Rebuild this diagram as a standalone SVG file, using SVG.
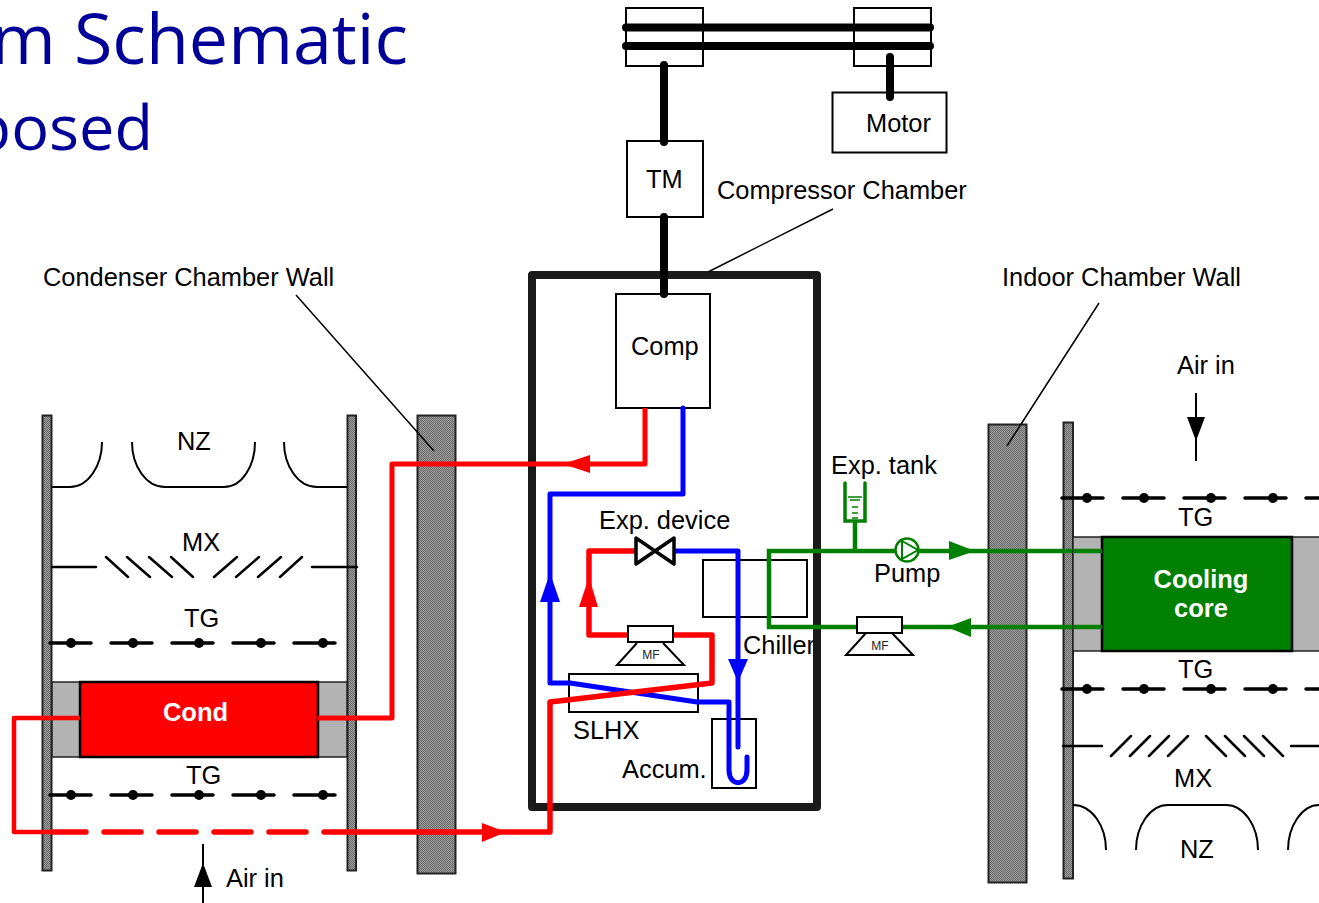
<svg xmlns="http://www.w3.org/2000/svg" width="1319" height="903" viewBox="0 0 1319 903">
<style>
text{font-family:"Liberation Sans",Arial,sans-serif;font-size:25.400px;fill:#000}
.t{fill:#000099;font-family:"Open Sans","Noto Sans",sans-serif}
.b{font-weight:bold;fill:#fff;font-size:25.500px}
.mf{font-size:12px;fill:#222}
.w{fill:url(#h);stroke:#222;stroke-width:2}
.box{fill:#fff;stroke:#000;stroke-width:2}
.o{fill:none;stroke:#000;stroke-width:2}
.s{fill:none;stroke:#000;stroke-width:2.500;stroke-linecap:round}
.tgl{fill:none;stroke:#000;stroke-width:3.500;stroke-linecap:round}
.sh{fill:none;stroke:#000;stroke-width:8;stroke-linecap:round}
.red{fill:none;stroke:#f00;stroke-width:5;stroke-linejoin:round}
.blue{fill:none;stroke:#00f;stroke-width:5;stroke-linejoin:round}
.grn{fill:none;stroke:#008000;stroke-width:4.500}
.gray{fill:#b3b3b3;stroke:#222;stroke-width:1.500}
</style>
<defs>
<pattern id="h" width="2" height="2" patternUnits="userSpaceOnUse"><rect width="2" height="2" fill="#9a9a9a"/><rect width="1" height="1" fill="#6e6e6e"/><rect x="1" y="1" width="1" height="1" fill="#6e6e6e"/></pattern>
<g id="tg"><path class="tgl" d="M0 0H41M61 0H102M122 0H163M183 0H224M244 0H285"/><circle cx="21" r="5"/><circle cx="83" r="5"/><circle cx="149" r="5"/><circle cx="211" r="5"/><circle cx="273" r="5"/></g>
<g id="tgr"><path class="tgl" d="M0 0H41M61 0H102M122 0H163M183 0H224M244 0H257"/><circle cx="25" r="5"/><circle cx="82" r="5"/><circle cx="149" r="5"/><circle cx="211" r="5"/></g>
</defs>
<g id="title"><text class="t" x="408" y="64" text-anchor="end" style="font-size:70px">m Schematic</text><text class="t" x="153" y="150" text-anchor="end" style="font-size:63px">posed</text></g>
<g id="walls"><rect class="w" x="42.500" y="415.500" width="9" height="455"/><rect class="w" x="347.500" y="415.500" width="8.500" height="455"/><rect class="w" x="417.500" y="415.500" width="38" height="458"/><rect class="w" x="988.500" y="424.500" width="38" height="458"/><rect class="w" x="1063.500" y="422.500" width="9.500" height="456"/></g>
<g id="nz-left"><path class="o" d="M52 487H70C88 487 102 466 102 442M132 442C132 466 146 487 165 487H224C242 487 255 466 255 442M284 442C284 466 298 487 317 487H347"/><text x="177" y="450">NZ</text></g>
<g id="mx-left"><path class="s" d="M52 567H96M106 557L128 577M127 557L150 577M149 557L172 577M171 557L193 577M214 577L237 557M236 577L259 557M258 577L281 557M280 577L302 557M312 567H357"/><text x="182" y="551">MX</text></g>
<g id="tg-left"><use href="#tg" x="50" y="643"/><text x="184" y="627">TG</text><use href="#tg" x="50" y="795"/><text x="186" y="784">TG</text></g>
<g id="cond"><rect class="gray" x="52" y="682" width="295" height="75"/><rect x="80" y="682" width="238" height="75" fill="#f00" stroke="#000" stroke-width="2.500"/><text class="b" x="195.500" y="721" text-anchor="middle">Cond</text></g>
<g id="comp"><rect class="box" x="616" y="294" width="94" height="114"/><text x="631" y="355">Comp</text></g>
<g id="chamber"><rect x="532" y="275" width="285" height="532" fill="none" stroke="#1a1a1a" stroke-width="8" stroke-linejoin="round"/></g>
<g id="drive"><rect class="box" x="626" y="8" width="77" height="58"/><rect class="box" x="854" y="8" width="77" height="58"/><rect class="box" x="627" y="141" width="76" height="76"/><rect class="box" x="832.500" y="92.500" width="114" height="60" stroke-width="1.500"/><text x="646" y="188">TM</text><text x="866" y="132">Motor</text>
<path class="sh" d="M626 27.500H930M626 46H930M664 65V142M664 217V294M890 57V97"/></g>
<g id="leaders"><path class="o" style="stroke-width:1.500" d="M296 295L434 451M833 209L708 272M1099 303L1007 446"/></g>
<g id="chiller"><rect class="box" x="703" y="560" width="104" height="57"/></g>
<g id="slhx"><rect class="o" x="569" y="674" width="129" height="38"/><text x="573" y="739">SLHX</text></g>
<g id="accum"><rect class="o" x="712" y="719" width="44" height="69"/><text x="622" y="778">Accum.</text></g>
<g id="connectors">
<path class="blue" stroke-linecap="round" d="M683 408V494H550V683H570L697 702H729V770C729 787 747 787 747 770V757"/>
<path class="blue" stroke-linecap="round" d="M676 551H738V747"/>
<path class="red" d="M645 408V464H392V718H318"/>
<path class="red" style="stroke-width:4.500" d="M80 718H14V832H52"/>
<path class="red" style="stroke-width:5.500" d="M52 832H86M104 832H141M159 832H196M214 832H251M269 832H306M324 832H550V702L712 683V635H673M628 635H589V551H635" stroke-linecap="round"/>
<path d="M563 464L590 455V473Z" fill="#f00"/><path d="M506 832L482 823V842Z" fill="#f00"/><path d="M589 577L579 607H598Z" fill="#f00"/>
<path d="M550 573L540 602H560Z" fill="#00f"/><path d="M738 682L728 659H748Z" fill="#00f"/>
<path class="grn" d="M1102 551H769V627H1102"/><path class="grn" d="M855 522V551"/>
<path d="M975 551L949 541V560Z" fill="#008000"/><path d="M947 627L971 618V637Z" fill="#008000"/>
</g>
<g id="valve"><path d="M636 538L674 564V538L636 564Z" fill="#fff" stroke="#000" stroke-width="3.500" stroke-linejoin="round"/><text x="599" y="529">Exp. device</text></g>
<g id="mf1"><path class="o" d="M637 643L617 665H684L663 643" fill="#fff"/><rect class="box" x="628" y="626" width="45" height="16"/><text class="mf" x="651" y="659" text-anchor="middle">MF</text></g>
<text x="743" y="654">Chiller</text>
<g id="tank"><path d="M845 483V521H865V483" fill="#fff" stroke="#008000" stroke-width="3.500" stroke-linecap="round"/><path d="M848 497H862M850 500H860M852 507H858M852 513H858M852 518H858" stroke="#008000" stroke-width="1.500" fill="none"/><text x="831" y="474">Exp. tank</text></g>
<g id="pump"><circle cx="907" cy="550" r="11.500" fill="#fff" stroke="#008000" stroke-width="2.500"/><path d="M902 541L918 550L902 559Z" fill="#fff" stroke="#008000" stroke-width="2"/><text x="874" y="582">Pump</text></g>
<g id="mf2"><path class="o" d="M866 633L846 655H913L892 633" fill="#fff"/><rect class="box" x="857" y="617" width="45" height="16"/><text class="mf" x="880" y="650" text-anchor="middle">MF</text></g>
<g id="cooling"><rect class="gray" x="1073" y="537" width="247" height="114"/><rect x="1102" y="537" width="190" height="114" fill="#008000" stroke="#000" stroke-width="2.500"/><path class="grn" d="M1073 551H1102M1073 627H1102"/><text class="b" x="1201" y="588" text-anchor="middle">Cooling</text><text class="b" x="1201" y="617" text-anchor="middle">core</text></g>
<g id="tg-right"><use href="#tgr" x="1062" y="498"/><text x="1178" y="526">TG</text><use href="#tgr" x="1062" y="689"/><text x="1178" y="678">TG</text></g>
<g id="mx-right"><path class="s" d="M1063 746H1102M1111 756L1131 736M1130 756L1150 736M1149 756L1169 736M1168 756L1188 736M1206 736L1226 756M1225 736L1245 756M1244 736L1264 756M1263 736L1283 756M1291 746H1319"/><text x="1174" y="787">MX</text></g>
<g id="nz-right"><path class="o" d="M1073 805C1092 805 1106 826 1106 850M1136 850C1136 826 1150 805 1168 805H1226C1244 805 1258 826 1258 850M1288 850C1288 826 1302 805 1319 805"/><text x="1180" y="858">NZ</text></g>
<g id="air-left"><path class="o" d="M203 844V903"/><path d="M203 863L194 887H212Z"/><text x="226" y="887">Air in</text></g>
<g id="air-right"><path class="o" d="M1196 393V461"/><path d="M1196 441L1187 417H1205Z"/><text x="1177" y="374">Air in</text></g>
<g id="labels"><text x="43" y="286">Condenser Chamber Wall</text><text x="717" y="199">Compressor Chamber</text><text x="1002" y="286">Indoor Chamber Wall</text></g>
</svg>
